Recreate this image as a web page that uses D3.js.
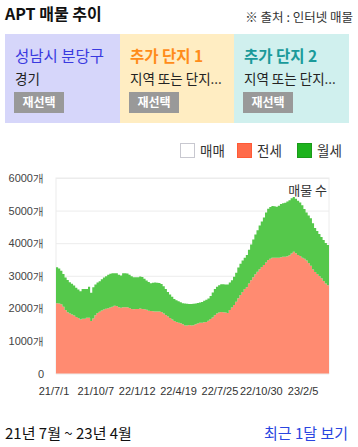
<!DOCTYPE html>
<html><head><meta charset="utf-8">
<script src="https://cdn.jsdelivr.net/npm/d3@7"></script>
<style>
body{margin:0;background:#fff}
svg{display:block;font-family:"Noto Sans CJK KR","Noto Sans",sans-serif}
</style>
</head><body><svg id="c" width="358" height="447"></svg>
<script>
const dates = [
"2021-07-01","2021-07-06","2021-07-11","2021-07-16","2021-07-21","2021-07-26","2021-07-31",
"2021-08-05","2021-08-10","2021-08-15","2021-08-20","2021-08-25","2021-08-30",
"2021-09-04","2021-09-09","2021-09-14","2021-09-19","2021-09-24","2021-09-29",
"2021-10-04","2021-10-09","2021-10-14","2021-10-19","2021-10-24","2021-10-29",
"2021-11-03","2021-11-08","2021-11-13","2021-11-18","2021-11-23","2021-11-28",
"2021-12-03","2021-12-08","2021-12-13","2021-12-18","2021-12-23","2021-12-28",
"2022-01-02","2022-01-07","2022-01-12","2022-01-17","2022-01-22","2022-01-27",
"2022-02-01","2022-02-06","2022-02-11","2022-02-16","2022-02-21","2022-02-26",
"2022-03-03","2022-03-08","2022-03-13","2022-03-18","2022-03-23","2022-03-28",
"2022-04-02","2022-04-07","2022-04-12","2022-04-17","2022-04-22","2022-04-27",
"2022-05-02","2022-05-07","2022-05-12","2022-05-17","2022-05-22","2022-05-27",
"2022-06-01","2022-06-06","2022-06-11","2022-06-16","2022-06-21","2022-06-26",
"2022-07-01","2022-07-06","2022-07-11","2022-07-16","2022-07-21","2022-07-26","2022-07-31",
"2022-08-05","2022-08-10","2022-08-15","2022-08-20","2022-08-25","2022-08-30",
"2022-09-04","2022-09-09","2022-09-14","2022-09-19","2022-09-24","2022-09-29",
"2022-10-04","2022-10-09","2022-10-14","2022-10-19","2022-10-24","2022-10-29",
"2022-11-03","2022-11-08","2022-11-13","2022-11-18","2022-11-23","2022-11-28",
"2022-12-03","2022-12-08","2022-12-13","2022-12-18","2022-12-23","2022-12-28",
"2023-01-02","2023-01-07","2023-01-12","2023-01-17","2023-01-22","2023-01-27",
"2023-02-01","2023-02-06","2023-02-11","2023-02-16","2023-02-21","2023-02-26",
"2023-03-03","2023-03-08","2023-03-13","2023-03-18","2023-03-23","2023-03-28",
"2023-04-02"];

// 전세 (jeonse) listings
const jeonse = [2155,2150,2124,2051,1950,1880,1840,1812,1780,1735,
1700,1655,1680,1684,1714,1714,1612,1690,1790,1858,
1898,1930,1965,1985,2003,2025,2045,2077,2072,2035,
2020,2032,2032,2030,2012,1983,1974,1980,1980,1992,
1980,1970,1954,1924,1919,1910,1900,1899,1904,1890,
1845,1795,1748,1700,1658,1615,1582,1555,1541,1512,
1470,1476,1487,1471,1482,1512,1537,1555,1561,1570,
1584,1620,1670,1722,1785,1840,1872,1885,1880,1873,
1855,1950,2025,2103,2200,2310,2410,2500,2590,2645,
2760,2865,2955,3045,3120,3200,3265,3330,3410,3480,
3525,3552,3556,3556,3556,3565,3580,3586,3597,3626,
3680,3735,3690,3640,3605,3555,3520,3465,3390,3305,
3195,3112,3055,2990,2925,2840,2760,2712,2680];

// 월세 (wolse) listings
const wolse = [1105,1070,1033,1004,1000,990,960,943,920,900,
880,870,910,910,880,951,868,960,940,937,
937,960,980,998,1027,1035,1028,999,1004,992,
990,1044,1044,1040,1018,1002,979,973,973,983,
985,935,903,882,853,878,895,890,872,855,
830,795,752,728,697,675,667,665,644,645,
680,664,648,665,660,640,627,625,630,665,
678,680,710,763,805,820,840,853,858,862,
875,845,840,869,890,940,960,965,960,995,
1040,1095,1155,1220,1280,1340,1400,1460,1535,1580,
1585,1588,1579,1559,1589,1640,1645,1654,1683,1694,
1695,1680,1675,1660,1645,1605,1525,1480,1460,1460,
1420,1353,1315,1290,1265,1255,1245,1228,1220];

const yTicks = [0,1000,2000,3000,4000,5000,6000];
const xTickDates = ["2021-07-01","2021-10-07","2022-01-12","2022-04-19","2022-07-25","2022-10-30","2023-02-05"];
const legendLabels = ["매매","전세","월세"];
const panelTitles = ["성남시 분당구","추가 단지 1","추가 단지 2"];
const panelSubs = ["경기","지역 또는 단지...","지역 또는 단지..."];

const svg = d3.select("#c");
const parse = d3.timeParse("%Y-%m-%d");
const L = 56, R = 329, T = 178, B = 373.5;

// header
svg.append("text").attr("x",5).attr("y",20).attr("font-size",16).attr("font-weight","bold").attr("fill","#111").text("APT 매물 추이");
svg.append("text").attr("x",353).attr("y",22).attr("text-anchor","end").attr("font-size",12.5).attr("fill","#333").text("※ 출처 : 인터넷 매물");

// panels
const panelBg = ["#d6d6fa","#ffedc2","#d0f0ee"];
const panelFg = ["#3a3ae0","#ff8c1a","#1a9a9a"];
const panelX = [5,120,234];
const panelW = [115,114,115];
panelTitles.forEach((t,i)=>{
  const g = svg.append("g").attr("transform",`translate(${panelX[i]},34)`);
  g.append("rect").attr("width",panelW[i]).attr("height",89).attr("fill",panelBg[i]);
  g.append("text").attr("x",10).attr("y",28).attr("font-size",15.5).attr("fill",panelFg[i]).attr("font-weight", i===0?"normal":"bold").text(t);
  g.append("text").attr("x",10).attr("y",50).attr("font-size",13.5).attr("fill","#222").text(panelSubs[i]);
  g.append("rect").attr("x",9).attr("y",58).attr("width",50).attr("height",21).attr("fill","#999");
  g.append("text").attr("x",34).attr("y",73).attr("text-anchor","middle").attr("font-size",12).attr("font-weight","bold").attr("fill","#fff").text("재선택");
});

// legend
const legX = [180,237,297];
const legFill = ["#fff","#ff6b4a","#1db31d"];
const legStroke = ["#c8c8d0","#ff5a36","#1a9a1a"];
legendLabels.forEach((l,i)=>{
  svg.append("rect").attr("x",legX[i]+0.5).attr("y",143.5).attr("width",14).attr("height",14)
    .attr("fill",legFill[i]).attr("stroke",legStroke[i]);
  svg.append("text").attr("x",legX[i]+20).attr("y",156).attr("font-size",13.5).attr("fill","#333").text(l);
});

// scales
const x = d3.scaleTime().domain([parse(dates[0]), parse(dates[dates.length-1])]).range([L,R]);
const y = d3.scaleLinear().domain([0,6000]).range([B,T]);

// grid
svg.append("g").attr("transform",`translate(${L},0)`)
  .call(d3.axisLeft(y).tickValues(yTicks).tickSize(-(R-L)).tickFormat(""))
  .call(g=>{g.select(".domain").remove(); g.selectAll("line").attr("stroke","#ececec");});
svg.append("rect").attr("x",L).attr("y",T).attr("width",R-L).attr("height",B-T).attr("fill","none").attr("stroke","#ececec");

// stacked areas
const table = dates.map((d,i)=>({date:parse(d), jeonse:jeonse[i], wolse:wolse[i]}));
const stack = d3.stack().keys(["jeonse","wolse"])(table);
const area = d3.area().x(d=>x(d.data.date)).y0(d=>y(d[0])).y1(d=>y(d[1])).curve(d3.curveStepAfter);
const fills = {jeonse:"#ff8b71", wolse:"#55c84b"};
svg.append("g").selectAll("path").data(stack).join("path")
  .attr("d",area).attr("fill",d=>fills[d.key]);

// y axis labels
svg.append("g").attr("transform",`translate(${L},0)`)
  .call(d3.axisLeft(y).tickValues(yTicks).tickSize(0).tickPadding(12).tickFormat(d=>d===0?"0":d+"개"))
  .call(g=>{g.select(".domain").remove(); g.selectAll("text").attr("font-size",11).attr("fill","#444").attr("font-family",null);});

// x axis labels
svg.append("g").attr("transform",`translate(-2.5,${B})`)
  .call(d3.axisBottom(x).tickValues(xTickDates.map(parse)).tickSize(0).tickPadding(14).tickFormat(d3.timeFormat("%y/%-m/%-d")))
  .call(g=>{g.select(".domain").remove(); g.selectAll("text").attr("font-size",11).attr("fill","#333").attr("font-family",null);});

svg.append("text").attr("x",327).attr("y",195).attr("text-anchor","end").attr("font-size",13).attr("fill","#333").text("매물 수");

// footer
svg.append("text").attr("x",5).attr("y",439).attr("font-size",15).attr("fill","#111").text("21년 7월 ~ 23년 4월");
svg.append("text").attr("x",348).attr("y",439).attr("text-anchor","end").attr("font-size",15).attr("fill","#2a45e0").text("최근 1달 보기");
</script>
</body></html>
